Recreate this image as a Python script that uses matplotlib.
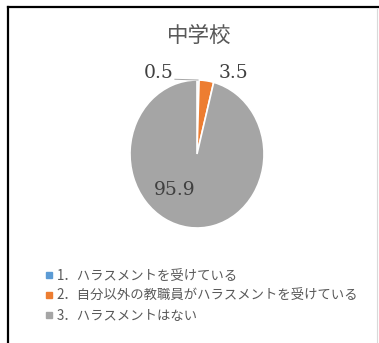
import matplotlib
matplotlib.use("Agg")
import numpy as np
import matplotlib.pyplot as plt
from matplotlib.lines import Line2D

# data
title = "中学校"
categories = ["1．ハラスメントを受けている",
              "2．自分以外の教職員がハラスメントを受けている",
              "3．ハラスメントはない"]
values = [0.5, 3.5, 95.9]
colors = ["#5B9BD5", "#ED7D31", "#A5A5A5"]

plt.rcParams['font.family'] = ['Noto Sans CJK JP', 'DejaVu Sans']

W, H = 379, 343
fig = plt.figure(figsize=(W / 100, H / 100), dpi=100)
fig.patch.set_facecolor("white")

# frame lines of the cropped chart
fig.add_artist(Line2D([8 / W, 1], [1 - 7 / H, 1 - 7 / H], color="black", lw=1.6))
fig.add_artist(Line2D([8 / W, 8 / W], [0, 1 - 7 / H], color="black", lw=1.6))
fig.add_artist(Line2D([377 / W, 377 / W], [0, 1 - 9 / H], color="#d9d9d9", lw=0.8))

# pie axes (slightly taller than wide, like the source)
ax = fig.add_axes([130 / W, (H - 228) / H, 134 / W, 148 / H])
wedges, _ = ax.pie(values, colors=colors, startangle=90, counterclock=False,
                   wedgeprops=dict(edgecolor="white", linewidth=1.2))
ax.set_aspect("auto")
ax.set_xlim(-1, 1)
ax.set_ylim(-1, 1)
ax.axis("off")

# data labels
num_font = dict(family="DejaVu Serif", fontsize=13.5, color="#404040")
label_pos = [(-0.57, 1.10), (0.54, 1.10), (-0.33, -0.49)]
for w, v, (lx, ly) in zip(wedges, values, label_pos):
    ax.text(lx, ly, f"{v}", ha="center", va="center", clip_on=False, **num_font)

# leader line for smallest slice
ang = np.deg2rad((wedges[0].theta1 + wedges[0].theta2) / 2)
ax.plot([-0.33, np.cos(ang)], [1.01, np.sin(ang)], color="#a6a6a6", lw=0.7, clip_on=False)

fig.text(199 / W, 1 - 36 / H, title, ha="center", va="center", fontsize=15.5, color="#595959")

handles = [Line2D([], [], marker="s", linestyle="none", markersize=4,
                  markerfacecolor=c, markeredgecolor=c) for c in colors]
fig.legend(handles, categories, loc="upper left", bbox_to_anchor=(38 / W, 1 - 262 / H),
           frameon=False, fontsize=9.6, labelcolor="#595959", handlelength=0.6,
           handletextpad=0.3, labelspacing=0.45, borderpad=0)

fig.savefig("out.png", dpi=100)
